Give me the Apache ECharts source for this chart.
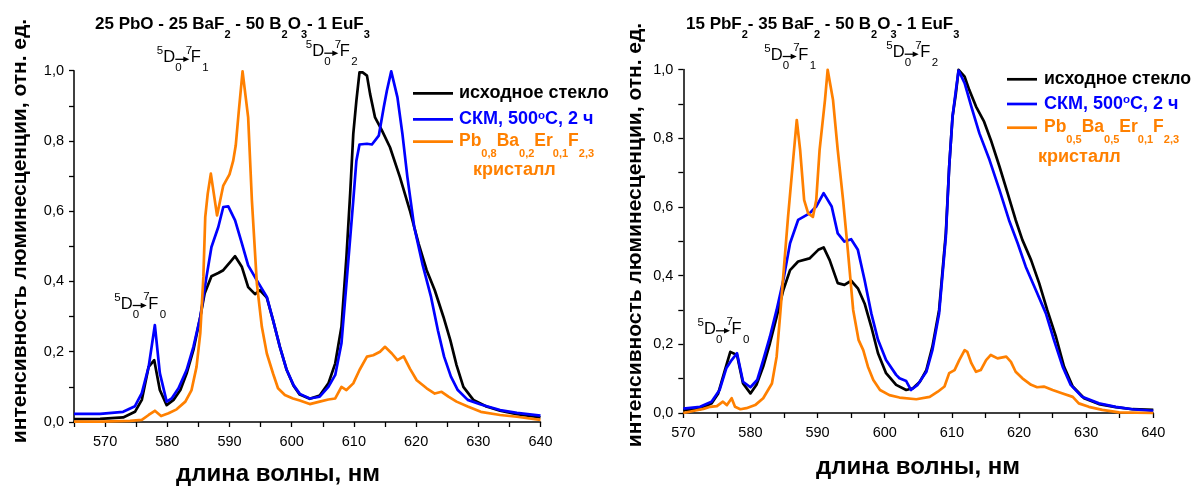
<!DOCTYPE html>
<html lang="ru">
<head>
<meta charset="utf-8">
<title>Спектры люминесценции Eu3+</title>
<script src="https://cdn.jsdelivr.net/npm/echarts@6/dist/echarts.min.js"></script>
<style>
html,body{margin:0;padding:0;background:#fff;}
#chart{width:1194px;height:487px;}
</style>
</head>
<body>
<div id="chart"></div>
<script>
// Emission spectra: [wavelength, nm ; normalised intensity]
// Glass 25 PbO - 25 BaF2 - 50 B2O3 - 1 EuF3
const leftGlass = [[565,0.008],[569.2,0.009],[572.9,0.013],[574.8,0.029],[575.9,0.063],[577.0,0.157],[577.9,0.176],[578.8,0.091],[579.9,0.048],[581.0,0.063],[582.1,0.091],[583.1,0.138],[584.2,0.205],[585.3,0.299],[586.0,0.366],[587.1,0.415],[588.2,0.424],[589.0,0.432],[590.1,0.455],[590.9,0.472],[592.0,0.441],[593.0,0.384],[594.1,0.364],[594.9,0.375],[596.0,0.354],[597.0,0.29],[598.1,0.214],[599.2,0.148],[600.3,0.103],[601.3,0.078],[602.9,0.066],[604.5,0.075],[605.9,0.110],[607.0,0.167],[608.0,0.271],[608.8,0.470],[609.4,0.650],[609.9,0.820],[610.4,0.915],[610.9,0.995],[611.4,0.995],[612.1,0.986],[612.6,0.934],[613.4,0.867],[614.5,0.830],[615.8,0.782],[617.4,0.697],[619.0,0.602],[620.4,0.508],[621.7,0.432],[623.0,0.375],[624.4,0.299],[625.5,0.233],[626.5,0.162],[627.6,0.100],[629.2,0.063],[631.3,0.044],[633.5,0.032],[636.2,0.022],[640,0.013]];
const leftGlassHT = [[565,0.023],[569.2,0.023],[572.9,0.029],[574.8,0.045],[575.9,0.082],[577.0,0.157],[578.0,0.276],[578.8,0.139],[579.9,0.058],[580.7,0.067],[581.8,0.096],[583.1,0.148],[584.2,0.214],[585.3,0.299],[586.3,0.413],[587.1,0.498],[588.2,0.555],[589.0,0.612],[589.8,0.614],[590.9,0.574],[592.0,0.508],[593.0,0.446],[594.4,0.403],[596.0,0.356],[597.0,0.290],[598.1,0.214],[599.2,0.148],[600.3,0.105],[601.3,0.080],[602.9,0.067],[604.5,0.072],[605.9,0.100],[607.0,0.134],[608.0,0.224],[608.8,0.394],[609.9,0.631],[610.4,0.744],[610.9,0.790],[612.1,0.792],[612.9,0.790],[614.0,0.815],[614.8,0.896],[615.3,0.943],[616.0,0.998],[617.0,0.924],[617.8,0.820],[618.6,0.697],[619.7,0.555],[621.0,0.451],[622.4,0.356],[623.5,0.261],[624.5,0.186],[625.6,0.129],[626.7,0.091],[628.3,0.063],[630.4,0.050],[633.5,0.034],[636.2,0.026],[640,0.018]];
const leftCrystal = [[565,0.001],[569.2,0.001],[574,0.003],[575.9,0.006],[577.0,0.02],[578.0,0.032],[579.0,0.017],[580.2,0.025],[581.5,0.036],[582.9,0.058],[583.9,0.091],[584.7,0.157],[585.3,0.252],[585.8,0.413],[586.1,0.583],[586.5,0.65],[587.0,0.707],[588.0,0.588],[589.0,0.673],[590.0,0.705],[590.6,0.744],[591.0,0.787],[591.5,0.886],[592.1,0.998],[593.0,0.867],[593.6,0.631],[594.4,0.394],[595.2,0.271],[596.0,0.195],[597.0,0.138],[597.8,0.096],[598.9,0.077],[600.2,0.067],[601.3,0.061],[602.9,0.051],[604.5,0.058],[605.9,0.064],[607.0,0.067],[608.0,0.100],[608.8,0.091],[609.9,0.110],[610.9,0.148],[612.1,0.186],[613.1,0.190],[614.2,0.200],[615.0,0.214],[616.1,0.195],[617.0,0.176],[618.0,0.187],[619.0,0.152],[620.1,0.119],[621.7,0.096],[623.0,0.081],[624.1,0.086],[625.2,0.072],[626.5,0.058],[628.3,0.044],[630.4,0.029],[633.5,0.020],[636.2,0.015],[640,0.006]];

// Glass 15 PbF2 - 35 BaF2 - 50 B2O3 - 1 EuF3
const rightGlass = [[570,0.008],[572.5,0.011],[574.2,0.028],[575.2,0.057],[576.2,0.125],[577.0,0.178],[578.0,0.169],[578.9,0.086],[580.0,0.057],[580.9,0.082],[581.9,0.135],[582.9,0.203],[583.9,0.280],[584.9,0.358],[585.9,0.416],[587.1,0.441],[588.8,0.450],[590.1,0.475],[590.9,0.482],[591.8,0.445],[593.0,0.378],[594.0,0.373],[595.0,0.385],[596.0,0.363],[597.0,0.319],[598.0,0.251],[599.0,0.174],[600.2,0.116],[601.7,0.082],[603.2,0.067],[604.2,0.072],[605.2,0.090],[606.2,0.125],[607.1,0.193],[608.1,0.300],[609.1,0.523],[609.6,0.717],[610.1,0.863],[610.6,0.931],[611.0,0.999],[611.9,0.979],[612.6,0.940],[613.6,0.892],[614.8,0.848],[615.8,0.795],[617.1,0.717],[618.3,0.640],[619.5,0.562],[620.5,0.504],[621.8,0.445],[623.0,0.378],[624.2,0.300],[625.5,0.222],[626.7,0.135],[628.0,0.077],[629.7,0.043],[631.9,0.026],[634.4,0.017],[636.9,0.011],[640,0.009]];
const rightGlassHT = [[570,0.013],[572.5,0.018],[574.2,0.033],[575.4,0.067],[576.4,0.130],[577.2,0.154],[578.0,0.174],[578.9,0.091],[580.0,0.075],[581.0,0.096],[581.9,0.154],[582.9,0.222],[583.9,0.300],[584.9,0.387],[585.9,0.494],[587.1,0.562],[588.8,0.581],[589.8,0.601],[590.9,0.640],[592.1,0.601],[593.0,0.523],[594.0,0.499],[595.0,0.506],[596.0,0.475],[597.0,0.387],[598.0,0.290],[599.0,0.213],[600.2,0.154],[601.7,0.111],[602.2,0.101],[603.2,0.093],[603.9,0.067],[604.9,0.082],[606.2,0.120],[607.1,0.183],[608.1,0.290],[609.1,0.513],[609.6,0.717],[610.1,0.863],[610.6,0.940],[611.0,0.997],[611.9,0.960],[612.9,0.892],[614.1,0.814],[615.6,0.737],[617.1,0.649],[618.5,0.562],[619.8,0.494],[621.0,0.426],[622.5,0.358],[624.0,0.290],[625.2,0.213],[626.5,0.135],[627.7,0.082],[629.4,0.047],[631.9,0.028],[634.4,0.018],[636.9,0.011],[640,0.006]];
const rightCrystal = [[570,0.0],[572,0.008],[573,0.012],[574.0,0.018],[575.0,0.020],[575.9,0.033],[576.5,0.023],[577.2,0.043],[577.7,0.018],[578.5,0.011],[579.4,0.014],[580.7,0.023],[581.9,0.043],[583.2,0.086],[583.9,0.164],[584.4,0.280],[585.0,0.426],[585.6,0.571],[586.4,0.746],[586.9,0.853],[587.4,0.766],[588.0,0.620],[588.6,0.581],[589.3,0.571],[589.8,0.620],[590.3,0.766],[591.1,0.911],[591.5,0.999],[592.3,0.911],[593.0,0.766],[593.8,0.620],[594.5,0.475],[595.3,0.300],[596.1,0.213],[596.8,0.183],[597.5,0.135],[598.3,0.096],[599.3,0.067],[600.7,0.052],[602.2,0.045],[604.7,0.040],[606.7,0.047],[607.9,0.062],[608.9,0.077],[609.6,0.116],[610.4,0.125],[611.1,0.154],[611.9,0.183],[612.3,0.178],[612.9,0.145],[613.6,0.120],[614.3,0.125],[615.1,0.154],[615.8,0.169],[616.8,0.159],[618.1,0.164],[618.8,0.149],[619.5,0.120],[620.5,0.101],[621.8,0.082],[622.7,0.075],[623.7,0.077],[625.0,0.067],[626.5,0.057],[628.0,0.047],[628.9,0.028],[630.4,0.018],[632.4,0.009],[634.9,0.002],[640,0.0]];

// Axis ticks and labels
const leftXTicks = [565,570,575,580,585,590,595,600,605,610,615,620,625,630,635,640];
const leftXLabels = [570,580,590,600,610,620,630,640];
const rightXTicks = [570,575,580,585,590,595,600,605,610,615,620,625,630,635,640];
const rightXLabels = [570,580,590,600,610,620,630,640];
const yTicks = [0,0.1,0.2,0.3,0.4,0.5,0.6,0.7,0.8,0.9,1.0];
const yLabels = [0,0.2,0.4,0.6,0.8,1.0];

const seriesNames = ['исходное стекло', 'СКМ, 500°С, 2 ч', 'кристалл'];
const FONT = "'Liberation Sans', Arial, Helvetica, sans-serif";
const COL = { glass: '#000000', ht: '#0000ff', crystal: '#ff8000' };
const LW = 2.7;

function xAxisFor(gi, min, max, ticks, labels) {
  return {
    type: 'value', gridIndex: gi, min: min, max: max, interval: 5,
    axisLine: { show: true, onZero: false, lineStyle: { color: '#000', width: 1.5 } },
    axisTick: { show: true, inside: false, length: 5, customValues: ticks, lineStyle: { color: '#000', width: 1.3 } },
    axisLabel: {
      show: true, customValues: labels, margin: 12, color: '#000', fontSize: 14.5, fontFamily: FONT,
      formatter: function (v) { const r = Math.round(v); return r % 10 === 0 ? String(r) : ''; }
    },
    splitLine: { show: false }
  };
}
function yAxisFor(gi) {
  return {
    type: 'value', gridIndex: gi, min: 0, max: 1, interval: 0.1,
    axisLine: { show: true, onZero: false, lineStyle: { color: '#000', width: 1.5 } },
    axisTick: { show: true, inside: false, length: 5, customValues: yTicks, lineStyle: { color: '#000', width: 1.3 } },
    axisLabel: {
      show: true, customValues: yLabels, margin: 10, color: '#000', fontSize: 14.5, fontFamily: FONT,
      formatter: function (v) { const t = Math.round(v * 10); return t % 2 === 0 ? (t / 10).toFixed(1).replace('.', ',') : ''; }
    },
    splitLine: { show: false }
  };
}
function lineSeries(name, data, color, gi, z) {
  return {
    type: 'line', name: name, xAxisIndex: gi, yAxisIndex: gi, data: data,
    showSymbol: false, symbol: 'none', clip: false, z: z,
    lineStyle: { color: color, width: LW, join: 'round' }, itemStyle: { color: color }
  };
}

// text helpers
function txt(x, y, text, size, extra) {
  return {
    type: 'text', x: x, y: y, silent: true,
    style: Object.assign({ text: text, fill: '#000', fontSize: size, fontFamily: FONT, align: 'left', verticalAlign: 'middle' }, extra || {})
  };
}
function richText(x, y, text, color, size, subSize, subDrop, extra) {
  return txt(x, y, text, size, Object.assign({
    fill: color, fontWeight: 'bold',
    rich: {
      m: { fill: color, fontSize: size, fontWeight: 'bold', fontFamily: FONT },
      s: { fill: color, fontSize: subSize, fontWeight: 'bold', fontFamily: FONT, padding: [subDrop * 2, 0, 0, 0] },
      p: { fill: color, fontSize: subSize, fontWeight: 'bold', fontFamily: FONT, padding: [0, 0, 8, 0] }
    }
  }, extra || {}));
}
// 5D0 -> 7FJ transition label
function transition(xD, yC, j) {
  const s = 16.5, ss = 11.5;
  return [
    txt(xD - 6.5, yC - 6.5, '5', ss),
    txt(xD, yC, 'D', s),
    txt(xD + 12, yC + 10.5, '0', ss),
    { type: 'line', silent: true, shape: { x1: xD + 12, y1: yC + 1.5, x2: xD + 21, y2: yC + 1.5 }, style: { stroke: '#000', lineWidth: 1.3 } },
    { type: 'polygon', silent: true, shape: { points: [[xD + 20, yC - 1.2], [xD + 26, yC + 1.5], [xD + 20, yC + 4.2]] }, style: { fill: '#000' } },
    txt(xD + 22.5, yC - 7, '7', ss),
    txt(xD + 27.5, yC, 'F', s),
    txt(xD + 39, yC + 10.5, j, ss)
  ];
}
function legendLine(x1, x2, y, color) {
  return { type: 'line', silent: true, shape: { x1: x1, y1: y, x2: x2, y2: y }, style: { stroke: color, lineWidth: LW } };
}

const graphics = [].concat(
  // titles
  [richText(95, 24.7, '{m|25 PbO - 25 BaF}{s|2}{m| - 50 B}{s|2}{m|O}{s|3}{m|- 1 EuF}{s|3}', '#000', 17, 11, 10.5)],
  [richText(686, 24.7, '{m|15 PbF}{s|2}{m|- 35 BaF}{s|2}{m| - 50 B}{s|2}{m|O}{s|3}{m|- 1 EuF}{s|3}', '#000', 17, 11, 10.5)],
  // axis titles
  [txt(278, 474, 'длина волны, нм', 24, { fontWeight: 'bold', align: 'center' })],
  [txt(918, 467, 'длина волны, нм', 24, { fontWeight: 'bold', align: 'center' })],
  [Object.assign(txt(20, 231, 'интенсивность люминесценции, отн. ед.', 21, { fontWeight: 'bold', align: 'center' }), { rotation: Math.PI / 2 })],
  [Object.assign(txt(635, 235, 'интенсивность люминесценции, отн. ед.', 21, { fontWeight: 'bold', align: 'center' }), { rotation: Math.PI / 2 })],
  // transition labels
  transition(120.7, 304, '0'), transition(163.3, 57.8, '1'), transition(312.3, 51.7, '2'),
  transition(704, 329.3, '0'), transition(770.7, 55, '1'), transition(892.7, 52.7, '2'),
  // legend, left panel
  [legendLine(413, 453, 93.3, COL.glass), legendLine(413, 453, 119.3, COL.ht), legendLine(413, 453, 141.7, COL.crystal)],
  [txt(459, 93, seriesNames[0], 18, { fontWeight: 'bold' })],
  [richText(459, 119.5, '{m|СКМ, 500}{p|o}{m|С, 2 ч}', COL.ht, 18, 11.5, 0)],
  [richText(459, 141.3, '{m|Pb}{s|0,8}{m|Ba}{s|0,2}{m|Er}{s|0,1}{m|F}{s|2,3}', COL.crystal, 17.5, 11, 12.5)],
  [txt(473, 170.5, seriesNames[2], 18, { fontWeight: 'bold', fill: COL.crystal })],
  // legend, right panel
  [legendLine(1007, 1037, 79.3, COL.glass), legendLine(1007, 1037, 104, COL.ht), legendLine(1007, 1037, 127.7, COL.crystal)],
  [txt(1044, 79, seriesNames[0], 17.7, { fontWeight: 'bold' })],
  [richText(1044, 104.2, '{m|СКМ, 500}{p|o}{m|С, 2 ч}', COL.ht, 18, 11.5, 0)],
  [richText(1044, 127.5, '{m|Pb}{s|0,5}{m|Ba}{s|0,5}{m|Er}{s|0,1}{m|F}{s|2,3}', COL.crystal, 17.5, 11, 12.5)],
  [txt(1038, 157.5, seriesNames[2], 18, { fontWeight: 'bold', fill: COL.crystal })]
);

const chart = echarts.init(document.getElementById('chart'));
chart.setOption({
  animation: false,
  backgroundColor: '#ffffff',
  grid: [
    { left: 74, top: 70.7, width: 466.5, height: 351.3, containLabel: false },
    { left: 683.3, top: 69.5, width: 470, height: 343.5, containLabel: false }
  ],
  xAxis: [xAxisFor(0, 565, 640, leftXTicks, leftXLabels), xAxisFor(1, 570, 640, rightXTicks, rightXLabels)],
  yAxis: [yAxisFor(0), yAxisFor(1)],
  series: [
    lineSeries(seriesNames[0], leftGlass, COL.glass, 0, 2),
    lineSeries(seriesNames[1], leftGlassHT, COL.ht, 0, 3),
    lineSeries(seriesNames[2], leftCrystal, COL.crystal, 0, 4),
    lineSeries(seriesNames[0], rightGlass, COL.glass, 1, 2),
    lineSeries(seriesNames[1], rightGlassHT, COL.ht, 1, 3),
    lineSeries(seriesNames[2], rightCrystal, COL.crystal, 1, 4)
  ],
  graphic: { elements: graphics }
});
</script>
</body>
</html>
